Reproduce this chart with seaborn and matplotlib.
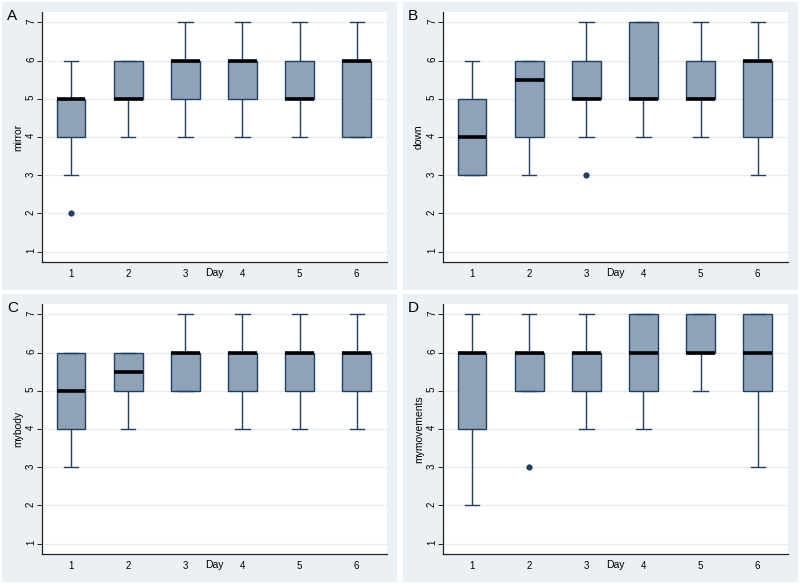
import matplotlib
matplotlib.use("Agg")
import matplotlib.pyplot as plt
from matplotlib.patches import Rectangle
import seaborn as sns
import pandas as pd

# Day categories
dias = ["1", "2", "3", "4", "5", "6"]

# Resumen de cada caja: minimo, q1, mediana, q3, maximo (por dia)
mirror_stats = [[3, 4, 5, 5, 6], [4, 5, 5, 6, 6], [4, 5, 6, 6, 7],
                [4, 5, 6, 6, 7], [4, 5, 5, 6, 7], [4, 4, 6, 6, 7]]
down_stats = [[3, 3, 4, 5, 6], [3, 4, 5.5, 6, 6], [4, 5, 5, 6, 7],
              [4, 5, 5, 7, 7], [4, 5, 5, 6, 7], [3, 4, 6, 6, 7]]
mybody_stats = [[3, 4, 5, 6, 6], [4, 5, 5.5, 6, 6], [5, 5, 6, 6, 7],
                [4, 5, 6, 6, 7], [4, 5, 6, 6, 7], [4, 5, 6, 6, 7]]
mymov_stats = [[2, 4, 6, 6, 7], [5, 5, 6, 6, 7], [4, 5, 6, 6, 7],
               [4, 5, 6, 7, 7], [5, 6, 6, 7, 7], [3, 5, 6, 7, 7]]

# Valores atipicos (dia, valor)
mirror_out = [("1", 2)]
down_out = [("3", 3)]
mybody_out = []
mymov_out = [("2", 3)]

paneles = [
    ("A", "mirror", mirror_stats, mirror_out),
    ("B", "down", down_stats, down_out),
    ("C", "mybody", mybody_stats, mybody_out),
    ("D", "mymovements", mymov_stats, mymov_out),
]

W, H = 800, 584
fondo = "#eaf0f3"
azul = "#1f3f63"
relleno = "#8fa3b8"

plt.rcParams["font.family"] = ["Liberation Sans", "DejaVu Sans"]
fig = plt.figure(figsize=(8, 5.84), dpi=100)
fig.set_facecolor("white")

# posiciones en pixeles: (x fondo, y fondo)
origenes = [(2, 2), (403, 2), (2, 294), (403, 294)]

for (letra, nombre, stats, outs), (ox, oy) in zip(paneles, origenes):
    # fondo gris del panel
    fig.patches.append(Rectangle((ox / W, 1 - (oy + 288) / H), 395 / W, 288 / H,
                                 transform=fig.transFigure, facecolor=fondo,
                                 edgecolor="none", zorder=-5))
    left, top, right, bottom = ox + 40, oy + 10, ox + 385, oy + 260
    ax = fig.add_axes([left / W, 1 - bottom / H, (right - left) / W, (bottom - top) / H])

    filas = []
    for d, s in zip(dias, stats):
        for v in s:
            filas.append({"Day": d, "valor": v})
    df = pd.DataFrame(filas)

    sns.boxplot(data=df, x="Day", y="valor", order=dias, ax=ax, whis=(0, 100),
                width=0.5, color=relleno, saturation=1, linecolor=azul,
                linewidth=1.0, showfliers=False,
                medianprops={"color": "black", "linewidth": 2.6})
    if outs:
        df_out = pd.DataFrame(outs, columns=["Day", "valor"])
        sns.stripplot(data=df_out, x="Day", y="valor", order=dias, ax=ax,
                      jitter=False, color=azul, size=4.5, zorder=5)

    ax.set_ylim(0.73, 7.27)
    ax.set_xlim(-0.51, 5.53)
    ax.set_yticks(range(1, 8))
    ax.grid(axis="y", color="#e6edf1", linewidth=0.9)
    ax.set_axisbelow(True)
    ax.set_facecolor("white")
    for lado in ["top", "right"]:
        ax.spines[lado].set_visible(False)
    for lado in ["left", "bottom"]:
        ax.spines[lado].set_color("#222222")
        ax.spines[lado].set_linewidth(0.9)
    ax.tick_params(axis="y", labelrotation=90, length=3.5, width=0.7,
                   labelsize=7, color="#222222", pad=0.8)
    ax.tick_params(axis="x", length=0, labelsize=7, pad=5)
    ax.set_ylabel(nombre, fontsize=7.5, va="center")
    ax.yaxis.set_label_coords(-24 / (right - left), 0.5)
    ax.set_xlabel("Day", fontsize=7.5, va="top")
    ax.xaxis.set_label_coords(0.5, -6 / (bottom - top))

    fig.text((ox + 5) / W, 1 - (oy + 14) / H, letra, fontsize=11, va="center",
             ha="left")

fig.savefig("out.png", dpi=100)
